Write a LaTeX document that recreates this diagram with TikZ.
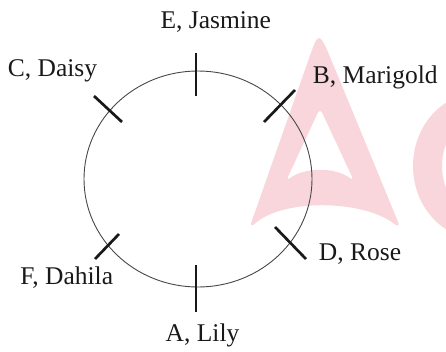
\documentclass[tikz,border=0pt]{standalone}
\usepackage{fontspec}
\setmainfont{Liberation Serif}
\usetikzlibrary{shapes.geometric}
\definecolor{wmpink}{RGB}{248,214,219}
\definecolor{inkc}{RGB}{25,25,25}
\begin{document}
\begin{tikzpicture}[x=1pt,y=-1pt,
  lbl/.style={font=\fontsize{25.5}{28}\selectfont, text=inkc, inner sep=0pt, anchor=base},
  tickline/.style={line width=2.7pt, draw=inkc},
  ring/.style={draw=black!72, line width=0.9pt, ellipse, inner sep=0pt,
    minimum width=228pt, minimum height=216pt},
  wm/.style={fill=wmpink, draw=none, even odd rule}]
\useasboundingbox (0,0) rectangle (446,351);
% watermark
\begin{scope}
  \clip (0,0) rectangle (446,351);
  \fill[wm] (306.3,66) .. controls (319,30) .. (333.8,66) [rounded corners=8pt] -- (401,229) .. controls (362,199) and (282,199) .. (249,229) -- cycle
     [rounded corners=5pt] (320,108) -- (354,181) .. controls (335,167) and (305,167) .. (286,181) -- cycle;
  \fill[wm] (479,166) ellipse [x radius=66, y radius=73] (479,166) ellipse [x radius=37, y radius=48];
\end{scope}
% ring
\node[ring] (ring) at (198,179) {};
% ticks
\coordinate (e1) at (196,53);  \coordinate (e2) at (196,96);
\coordinate (a1) at (196,265); \coordinate (a2) at (196,312);
\coordinate (c1) at (94,96);   \coordinate (c2) at (122,122);
\coordinate (b1) at (295,90);  \coordinate (b2) at (264,122);
\coordinate (f1) at (119,234); \coordinate (f2) at (95,259);
\coordinate (d1) at (275,227); \coordinate (d2) at (306,259);
\draw[tickline] (e1) -- (e2);
\draw[tickline] (a1) -- (a2);
\draw[tickline] (c1) -- (c2);
\draw[tickline] (b1) -- (b2);
\draw[tickline] (f1) -- (f2);
\draw[tickline] (d1) -- (d2);
% labels
\node[lbl] (E) at (215.8,28.3) {E, Jasmine};
\node[lbl] (C) at (52.5,76) {C, Daisy};
\node[lbl] (B) at (375.3,83) {B, Marigold};
\node[lbl] (D) at (360,260) {D, Rose};
\node[lbl] (F) at (66.7,284.3) {F, Dahila};
\node[lbl] (A) at (202.5,341.5) {A, Lily};
\end{tikzpicture}
\end{document}
